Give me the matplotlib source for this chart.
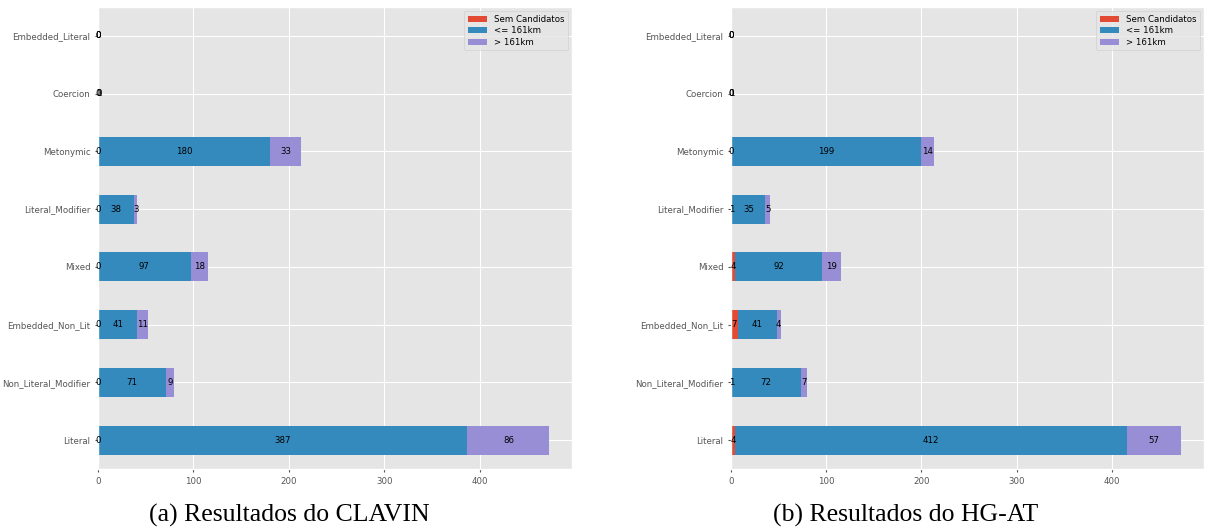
import numpy as np
import matplotlib
matplotlib.use("Agg")
import matplotlib.pyplot as plt

plt.style.use("ggplot")

categories = ["Literal", "Non_Literal_Modifier", "Embedded_Non_Lit", "Mixed",
              "Literal_Modifier", "Metonymic", "Coercion", "Embedded_Literal"]
series_names = ["Sem Candidatos", "<= 161km", "> 161km"]
colors = ["#E24A33", "#348ABD", "#988ED5"]

# CLAVIN
clavin_sem = [0, 0, 0, 0, 0, 0, 0, 0]
clavin_near = [387, 71, 41, 97, 38, 180, 1, 0]
clavin_far = [86, 9, 11, 18, 3, 33, 0, 0]

# HG-AT
hgat_sem = [4, 1, 7, 4, 1, 0, 0, 0]
hgat_near = [412, 72, 41, 92, 35, 199, 0, 0]
hgat_far = [57, 7, 4, 19, 5, 14, 1, 0]

captions = ["(a) Resultados do CLAVIN", "(b) Resultados do HG-AT"]

fig = plt.figure(figsize=(12.05, 5.31), dpi=100)
ax1 = fig.add_axes([98 / 1205, 1 - 469 / 531, (572 - 98) / 1205, 462 / 531])
ax2 = fig.add_axes([731 / 1205, 1 - 469 / 531, (1204 - 731) / 1205, 462 / 531])


def draw(ax, data):
    y = np.arange(len(categories))
    left = np.zeros(len(categories))
    for vals, name, c in zip(data, series_names, colors):
        bars = ax.barh(y, vals, height=0.5, left=left, color=c, label=name)
        ax.bar_label(bars, labels=[str(v) for v in vals], label_type="center",
                     fontsize=6.2, color="black")
        left = left + np.array(vals)
    ax.set_yticks(y)
    ax.set_yticklabels(categories)
    ax.set_ylim(-0.5, len(categories) - 0.5)
    ax.set_xticks([0, 100, 200, 300, 400])
    ax.tick_params(labelsize=6.2, colors="#555555", length=2)
    ax.legend(loc="upper right", fontsize=6.2, framealpha=0.8,
              handlelength=2.2, borderpad=0.4, labelspacing=0.3)


draw(ax1, [clavin_sem, clavin_near, clavin_far])
draw(ax2, [hgat_sem, hgat_near, hgat_far])

fig.text(289 / 1205, 1 - 515 / 531, captions[0], ha="center", va="center",
         fontsize=18.5, family="Liberation Serif", color="black")
fig.text(906 / 1205, 1 - 515 / 531, captions[1], ha="center", va="center",
         fontsize=18.5, family="Liberation Serif", color="black")

fig.savefig("out.png", dpi=100)
